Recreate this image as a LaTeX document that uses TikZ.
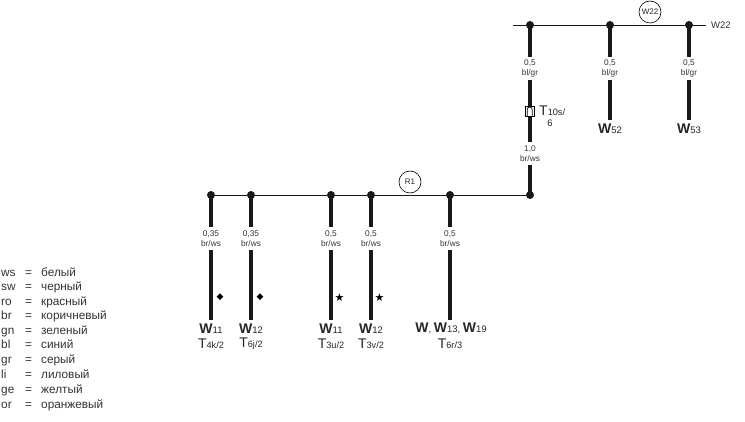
\documentclass[tikz,border=0pt]{standalone}
\usepackage{fontspec}
\setmainfont{Liberation Sans}
\newfontfamily\symfont{DejaVu Sans}
\newcommand{\WW}[1]{{\fontsize{14}{14}\selectfont\bfseries W}{\fontsize{9.5}{10}\selectfont #1}}
\newcommand{\TT}[1]{{\fontsize{14}{14}\selectfont T}{\fontsize{9.2}{10}\selectfont #1}}
\tikzset{
  x=1pt,y=-1pt,
  bus/.style={line width=0.9pt,black!90},
  wire/.style={line width=4.4pt,black!90},
  dot/.style={circle,fill=black!90,inner sep=0pt,minimum size=8pt},
  wlabel/.style={font=\fontsize{8.3}{9.4}\selectfont,align=center,inner sep=0pt,text=black!80},
  ring/.style={circle,draw,line width=0.6pt,inner sep=0pt,minimum size=22pt,font=\fontsize{8}{8}\selectfont,text=black!85},
  endlabel/.style={align=center,inner sep=0pt,text=black!85},
  leg/.style={anchor=base west,inner sep=0pt,font=\fontsize{11.8}{12}\selectfont,text=black!80},
  mark sym/.style={inner sep=0pt,font=\symfont\fontsize{9}{10}\selectfont},
}
\begin{document}
\begin{tikzpicture}
\useasboundingbox (0,0) rectangle (745,422);
% top bus
\coordinate (tl) at (513,25);
\node[dot] (a1) at (530,25) {};
\node[dot] (a2) at (610,25) {};
\node[dot] (a3) at (689,25) {};
\coordinate (tr) at (706,25);
\node[anchor=west,inner sep=0pt,font=\fontsize{9.5}{10}\selectfont,text=black!80] (w22t) at (711,25) {W22};
\draw[bus] (tl) -- (a1) -- (a2) -- (a3) -- (tr);
\node[ring] (w22c) at (650,12) {W22};
% lower bus
\node[dot] (b1) at (211,195) {};
\node[dot] (b2) at (251,195) {};
\node[dot] (b3) at (331,195) {};
\node[dot] (b4) at (371,195) {};
\node[dot] (b5) at (450,195) {};
\node[dot] (b6) at (530,195) {};
\draw[bus] (b1) -- (b2) -- (b3) -- (b4) -- (b5) -- (b6);
\node[ring] (r1c) at (410,182) {R1};
% top wires
\node[wlabel] (la1) at (530,68.5) {0,5\\bl/gr};
\node[wlabel] (la2) at (610,68.5) {0,5\\bl/gr};
\node[wlabel] (la3) at (689,68.5) {0,5\\bl/gr};
\node[wlabel] (lm) at (530,153.5) {1,0\\br/ws};
\draw[wire] (a1.center) -- (530,57);
\draw[wire] (a2.center) -- (610,57);
\draw[wire] (a3.center) -- (689,57);
\draw[wire] (530,80) -- (530,142);
\draw[wire] (530,165) -- (b6.center);
\draw[wire] (610,80) -- (610,120);
\draw[wire] (689,80) -- (689,120);
% fuse
\node[draw,fill=white,line width=0.7pt,minimum width=9.5pt,minimum height=10pt,inner sep=0pt] (fuse) at (529.7,111.5) {};
\draw[line width=0.7pt] ([xshift=-2.5pt,yshift=-5pt]fuse.center) -- ++(0pt,7pt) arc[start angle=180,end angle=0,radius=2.5pt] -- ++(0pt,-7pt);
\node[endlabel,anchor=west] (t10) at (539,111) {\TT{10s/}};
\node[anchor=center,inner sep=0pt,font=\fontsize{9.5}{10}\selectfont,text=black!85] (t10b) at (550,123) {6};
\node[endlabel] (w52) at (610,129) {\WW{52}};
\node[endlabel] (w53) at (689,129) {\WW{53}};
% lower wires
\foreach \n/\x/\tx in {1/211/{0,35},2/251/{0,35},3/331/{0,5},4/371/{0,5},5/450/{0,5}}{
  \node[wlabel] (lb\n) at (\x,238.5) {\tx\\br/ws};
  \draw[wire] (b\n.center) -- (\x,227);
  \draw[wire] (\x,250) -- (\x,320);
}
\node[mark sym] (m1) at (220,297) {◆};
\node[mark sym] (m2) at (260,297) {◆};
\node[inner sep=0pt,font=\symfont\fontsize{11}{11}\selectfont] (m3) at (339.5,298) {★};
\node[inner sep=0pt,font=\symfont\fontsize{11}{11}\selectfont] (m4) at (379.5,298) {★};
\foreach \n/\x/\wa/\tb in {1/211/11/4k\slash2,2/251/12/6j\slash2,3/331/11/3u\slash2,4/371/12/3v\slash2}{
  \node[endlabel] (we\n) at (\x,328.5) {\WW{\wa}};
  \node[endlabel] (te\n) at (\x,343.5) {\TT{\tb}};
}
\node[endlabel] (we5) at (451,328.5) {{\fontsize{14}{14}\selectfont\bfseries W}{\fontsize{9.5}{10}\selectfont, }\WW{13}{\fontsize{9.5}{10}\selectfont, }\WW{19}};
\node[endlabel] (te5) at (450,343.5) {\TT{6r\slash3}};
% legend
\foreach \i/\y/\a/\b in {1/276.3/ws/белый,2/290.8/sw/черный,3/305.3/ro/красный,4/319.8/br/коричневый,5/334.3/gn/зеленый,6/348.8/bl/синий,7/363.3/gr/серый,8/378.3/li/лиловый,9/393.3/ge/желтый,10/408.3/or/оранжевый}{
  \node[leg] (la\i) at (1,\y) {\a};
  \node[leg] (le\i) at (25,\y) {=};
  \node[leg] (lc\i) at (41,\y) {\b};
}
\end{tikzpicture}
\end{document}
